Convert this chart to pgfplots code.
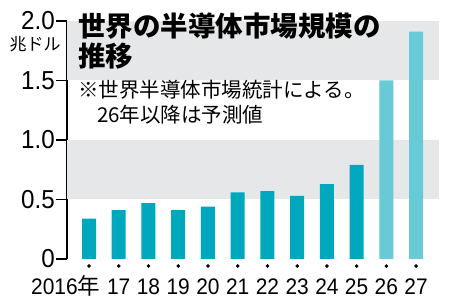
\documentclass[border=0pt]{standalone}
\usepackage{pgfplots}
\pgfplotsset{compat=1.18}
\usepackage{fontspec}
\setmainfont{Liberation Sans}
\newfontfamily\numfont{Liberation Sans}[FakeStretch=0.93]
\newfontfamily\jp{Noto Sans CJK JP}
\definecolor{barteal}{RGB}{0,168,190}
\definecolor{barlight}{RGB}{104,201,215}
\definecolor{bandgray}{RGB}{230,231,232}
\begin{document}
\begin{tikzpicture}[x=1pt,y=1pt]
\useasboundingbox (0,0) rectangle (450,307);
\begin{axis}[
  at={(67pt,48pt)}, anchor=south west,
  scale only axis, width=372pt, height=238pt,
  xmin=-0.74, xmax=11.77, ymin=0, ymax=2,
  clip=false,
  axis lines*=left,
  x axis line style={draw=none},
  y axis line style={black, line width=1.1pt, -},
  xtick={0,...,11},
  xticklabels={\makebox[0pt][r]{2016}{\jp 年},17,18,19,20,21,22,23,24,25,26,27},
  xtick style={draw=none},
  xticklabel style={font=\numfont\fontsize{22.5}{22.5}\selectfont, anchor=north, inner sep=0pt, text height=16pt, text depth=0pt, yshift=-8pt},
  ytick={0,0.5,1,1.5,2},
  yticklabels={0,0.5,1.0,1.5,2.0},
  ytick style={black, line width=1.1pt},
  tick align=outside,
  major tick length=11pt,
  yticklabel style={font=\numfont\fontsize{26}{26}\selectfont, inner sep=1pt},
]
\addplot[draw=none, fill=bandgray] coordinates {(-0.74,0.5) (11.77,0.5) (11.77,1) (-0.74,1)} -- cycle;
\addplot[draw=none, fill=bandgray] coordinates {(-0.74,1.5) (11.77,1.5) (11.77,2) (-0.74,2)} -- cycle;
\addplot[ybar, bar width=14pt, bar shift=0pt, fill=barteal, draw=none] coordinates {
(0,0.34) (1,0.41) (2,0.47) (3,0.41) (4,0.44) (5,0.56) (6,0.57) (7,0.53) (8,0.63) (9,0.79)};
\addplot[ybar, bar width=14pt, bar shift=0pt, fill=barlight, draw=none] coordinates {
(10,1.50) (11,1.91)};
\addplot[only marks, mark=*, mark size=1.6pt, black] coordinates {
(0,-0.059) (1,-0.059) (2,-0.059) (3,-0.059) (4,-0.059) (5,-0.059) (6,-0.059) (7,-0.059) (8,-0.059) (9,-0.059) (10,-0.059) (11,-0.059)};
\end{axis}
\node[anchor=base, inner sep=0pt, font=\jp\fontsize{17}{17}\selectfont] at (35,256.5) {兆ドル};
\node[anchor=base west, inner sep=0pt, font=\jp\bfseries\fontsize{27.5}{27.5}\selectfont] at (78,270.5) {世界の半導体市場規模の};
\node[anchor=base west, inner sep=0pt, font=\jp\bfseries\fontsize{27.5}{27.5}\selectfont] at (78,240) {推移};
\node[anchor=base west, inner sep=0pt, font=\jp\fontsize{20.5}{20.5}\selectfont] at (78,209.2) {※世界半導体市場統計による。};
\node[anchor=base west, inner sep=0pt, font=\jp\fontsize{20.5}{20.5}\selectfont] at (97,184.5) {26年以降は予測値};
\end{tikzpicture}
\end{document}
